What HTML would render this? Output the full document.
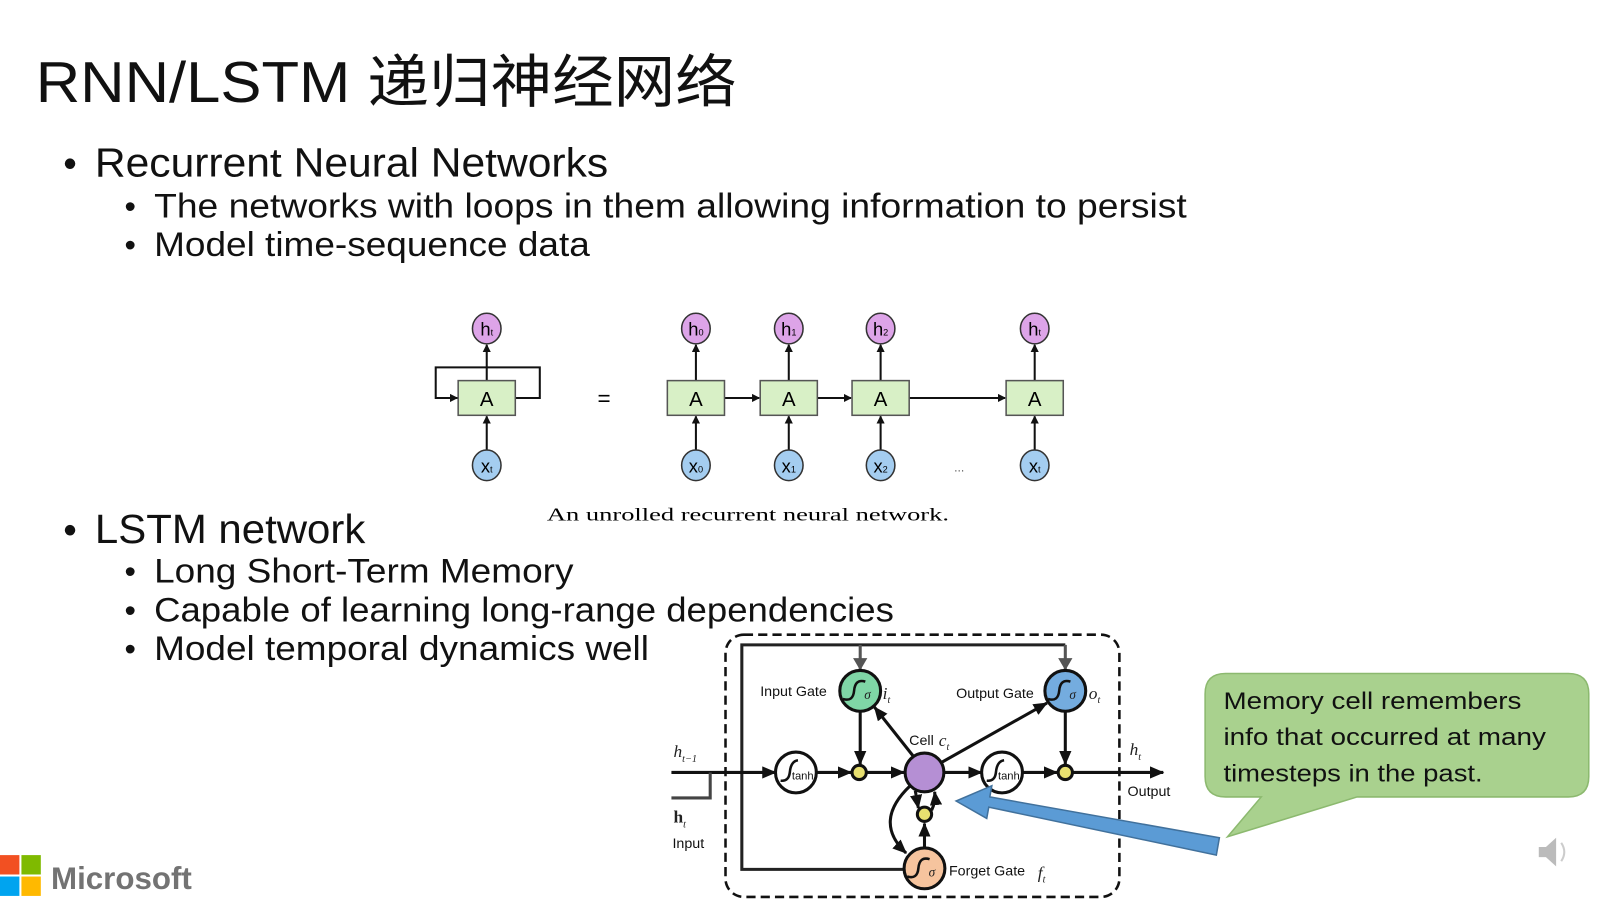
<!DOCTYPE html>
<html><head><meta charset="utf-8"><style>
html,body{margin:0;padding:0;background:#fff;width:1600px;height:900px;overflow:hidden}
svg{display:block}
.t{font-family:"Liberation Sans","Noto Sans CJK SC",sans-serif;fill:#111}
.s{font-family:"Liberation Sans",sans-serif;fill:#111}
.m{font-family:"Liberation Serif",serif;font-style:italic;fill:#222}
</style></head><body>
<svg width="1600" height="900" viewBox="0 0 1568 882" preserveAspectRatio="xMinYMin meet" xmlns="http://www.w3.org/2000/svg">
<defs>
<marker id="a" markerWidth="8" markerHeight="8" refX="7" refY="4" orient="auto" markerUnits="userSpaceOnUse"><path d="M0,0 L8,4 L0,8z" fill="#111"/></marker>
<marker id="b" markerWidth="14" markerHeight="12" refX="13" refY="6" orient="auto" markerUnits="userSpaceOnUse"><path d="M0,0 L14,6 L0,12z" fill="#111"/></marker>
<marker id="g" markerWidth="12" markerHeight="14" refX="11" refY="7" orient="auto" markerUnits="userSpaceOnUse"><path d="M0,0 L12,7 L0,14z" fill="#555"/></marker>
</defs>
<text class="t" x="35" y="100" font-size="56" textLength="687" lengthAdjust="spacingAndGlyphs">RNN/LSTM 递归神经网络</text>
<g class="s">
<text x="62" y="173" font-size="38">•</text>
<text x="93" y="173" font-size="40" textLength="503" lengthAdjust="spacingAndGlyphs">Recurrent Neural Networks</text>
<text x="122" y="213" font-size="32">•</text>
<text x="151" y="213" font-size="34" textLength="1012" lengthAdjust="spacingAndGlyphs">The networks with loops in them allowing information to persist</text>
<text x="122" y="251" font-size="32">•</text>
<text x="151" y="251" font-size="34" textLength="427" lengthAdjust="spacingAndGlyphs">Model time-sequence data</text>
<text x="62" y="532" font-size="38">•</text>
<text x="93" y="532" font-size="40" textLength="265" lengthAdjust="spacingAndGlyphs">LSTM network</text>
<text x="122" y="571" font-size="32">•</text>
<text x="151" y="571" font-size="34" textLength="411" lengthAdjust="spacingAndGlyphs">Long Short-Term Memory</text>
<text x="122" y="609" font-size="32">•</text>
<text x="151" y="609" font-size="34" textLength="725" lengthAdjust="spacingAndGlyphs">Capable of learning long-range dependencies</text>
<text x="122" y="647" font-size="32">•</text>
<text x="151" y="647" font-size="34" textLength="485" lengthAdjust="spacingAndGlyphs">Model temporal dynamics well</text>
</g>
<g stroke="#111" stroke-width="2" fill="none">
<path d="M449,390 H427 V360 H529 V390 H505" />
<line x1="427" y1="390" x2="448" y2="390" marker-end="url(#a)"/>
<line x1="477" y1="441" x2="477" y2="408" marker-end="url(#a)"/>
<line x1="477" y1="373" x2="477" y2="338" marker-end="url(#a)"/>
</g>
<g font-family="Liberation Sans,sans-serif" font-size="20" text-anchor="middle">
<rect x="449" y="373" width="56" height="34" fill="#d8f0c6" stroke="#555" stroke-width="1.5"/>
<text x="477" y="398">A</text>
<ellipse cx="477" cy="322" rx="14" ry="15" fill="#dda4e8" stroke="#333" stroke-width="1.5"/>
<text x="477" y="329" font-size="18">h<tspan font-size="9">t</tspan></text>
<ellipse cx="477" cy="456" rx="14" ry="15" fill="#a4cdf0" stroke="#333" stroke-width="1.5"/>
<text x="477" y="463" font-size="18">x<tspan font-size="9">t</tspan></text>
<text x="592" y="398" font-size="22">=</text>
</g>
<g stroke="#111" stroke-width="2" fill="none">
<line x1="710" y1="390" x2="744" y2="390" marker-end="url(#a)"/>
<line x1="801" y1="390" x2="834" y2="390" marker-end="url(#a)"/>
<line x1="891" y1="390" x2="985" y2="390" marker-end="url(#a)"/>
</g>
<g font-family="Liberation Sans,sans-serif" text-anchor="middle">
<line x1="682" y1="441" x2="682" y2="408" stroke="#111" stroke-width="2" marker-end="url(#a)"/>
<line x1="682" y1="373" x2="682" y2="338" stroke="#111" stroke-width="2" marker-end="url(#a)"/>
<line x1="773" y1="441" x2="773" y2="408" stroke="#111" stroke-width="2" marker-end="url(#a)"/>
<line x1="773" y1="373" x2="773" y2="338" stroke="#111" stroke-width="2" marker-end="url(#a)"/>
<line x1="863" y1="441" x2="863" y2="408" stroke="#111" stroke-width="2" marker-end="url(#a)"/>
<line x1="863" y1="373" x2="863" y2="338" stroke="#111" stroke-width="2" marker-end="url(#a)"/>
<line x1="1014" y1="441" x2="1014" y2="408" stroke="#111" stroke-width="2" marker-end="url(#a)"/>
<line x1="1014" y1="373" x2="1014" y2="338" stroke="#111" stroke-width="2" marker-end="url(#a)"/>
<rect x="654" y="373" width="56" height="34" fill="#d8f0c6" stroke="#555" stroke-width="1.5"/>
<rect x="745" y="373" width="56" height="34" fill="#d8f0c6" stroke="#555" stroke-width="1.5"/>
<rect x="835" y="373" width="56" height="34" fill="#d8f0c6" stroke="#555" stroke-width="1.5"/>
<rect x="986" y="373" width="56" height="34" fill="#d8f0c6" stroke="#555" stroke-width="1.5"/>
<text x="682" y="398" font-size="20">A</text><text x="773" y="398" font-size="20">A</text><text x="863" y="398" font-size="20">A</text><text x="1014" y="398" font-size="20">A</text>
<g fill="#dda4e8" stroke="#333" stroke-width="1.5">
<ellipse cx="682" cy="322" rx="14" ry="15"/><ellipse cx="773" cy="322" rx="14" ry="15"/><ellipse cx="863" cy="322" rx="14" ry="15"/><ellipse cx="1014" cy="322" rx="14" ry="15"/>
</g>
<g fill="#a4cdf0" stroke="#333" stroke-width="1.5">
<ellipse cx="682" cy="456" rx="14" ry="15"/><ellipse cx="773" cy="456" rx="14" ry="15"/><ellipse cx="863" cy="456" rx="14" ry="15"/><ellipse cx="1014" cy="456" rx="14" ry="15"/>
</g>
<g font-size="18">
<text x="682" y="329">h<tspan font-size="9">0</tspan></text><text x="773" y="329">h<tspan font-size="9">1</tspan></text><text x="863" y="329">h<tspan font-size="9">2</tspan></text><text x="1014" y="329">h<tspan font-size="9">t</tspan></text>
<text x="682" y="463">x<tspan font-size="9">0</tspan></text><text x="773" y="463">x<tspan font-size="9">1</tspan></text><text x="863" y="463">x<tspan font-size="9">2</tspan></text><text x="1014" y="463">x<tspan font-size="9">t</tspan></text>
</g>
<text x="940" y="462" font-size="12" fill="#555">...</text>
<text x="733" y="510" font-family="Liberation Serif,serif" font-size="18" textLength="394" lengthAdjust="spacingAndGlyphs">An unrolled recurrent neural network.</text>
</g>
<rect x="711" y="622" width="386" height="257" rx="18" fill="none" stroke="#111" stroke-width="2.5" stroke-dasharray="9,5"/>
<g stroke="#111" stroke-width="3" fill="none">
<path d="M890,852 H727 V632 H1044" stroke="#222"/>
<line x1="843" y1="632" x2="843" y2="656" stroke="#555" marker-end="url(#g)"/>
<line x1="1044" y1="632" x2="1044" y2="656" stroke="#555" marker-end="url(#g)"/>
<line x1="658" y1="757" x2="760" y2="757" marker-end="url(#b)"/>
<polyline points="658,782 696,782 696,757" stroke="#444"/>
<line x1="800" y1="757" x2="834" y2="757" marker-end="url(#b)"/>
<line x1="850" y1="757" x2="886" y2="757" marker-end="url(#b)"/>
<line x1="843" y1="697" x2="843" y2="749" marker-end="url(#b)"/>
<line x1="1044" y1="697" x2="1044" y2="749" marker-end="url(#b)"/>
<line x1="925" y1="757" x2="962" y2="757" marker-end="url(#b)"/>
<line x1="1002" y1="757" x2="1036" y2="757" marker-end="url(#b)"/>
<line x1="1052" y1="757" x2="1140" y2="757" marker-end="url(#b)"/>
<line x1="895" y1="741" x2="857" y2="693" marker-end="url(#b)"/>
<line x1="923" y1="747" x2="1026" y2="689" marker-end="url(#b)"/>
<line x1="906" y1="833" x2="906" y2="807" marker-end="url(#b)"/>
<line x1="897" y1="775" x2="900" y2="792" marker-end="url(#b)"/>
<path d="M913,794 Q917,786 916,776" marker-end="url(#b)"/>
<path d="M892,770 Q855,805 888,836" marker-end="url(#b)"/>
</g>
<g stroke="#111" stroke-width="3">
<circle cx="843" cy="677" r="20" fill="#7fd6a6"/>
<circle cx="1044" cy="677" r="20" fill="#74acdf"/>
<circle cx="906" cy="757" r="19" fill="#b58fd4"/>
<circle cx="780" cy="757" r="20" fill="#fff"/>
<circle cx="982" cy="757" r="20" fill="#fff"/>
<circle cx="906" cy="851" r="20" fill="#f6c49e"/>
<circle cx="842" cy="757" r="7" fill="#e8e070"/>
<circle cx="1044" cy="757" r="7" fill="#e8e070"/>
<circle cx="906" cy="798" r="7" fill="#e8e070"/>
</g>
<g stroke="#111" stroke-width="2.5" fill="none">
<path d="M826,685 Q836,688 837,677 Q838,665 848,668"/>
<path d="M1027,685 Q1037,688 1038,677 Q1039,665 1049,668"/>
<path d="M889,859 Q899,862 900,851 Q901,839 911,842"/>
<path d="M765,765 Q773,766 774,757 Q775,746 782,745"/>
<path d="M967,765 Q975,766 976,757 Q977,746 984,745"/>
</g>
<g font-family="Liberation Sans,sans-serif" font-size="14" fill="#111">
<text x="745" y="682">Input Gate</text>
<text x="937" y="684">Output Gate</text>
<text x="891" y="730">Cell</text>
<text x="930" y="858">Forget Gate</text>
<text x="659" y="831">Input</text>
<text x="1105" y="780">Output</text>
<text x="776" y="764" font-size="11">tanh</text>
<text x="978" y="764" font-size="11">tanh</text>
<text x="847" y="685" font-size="13" class="m">σ</text>
<text x="1048" y="685" font-size="13" class="m">σ</text>
<text x="910" y="859" font-size="13" class="m">σ</text>
</g>
<g class="m" font-size="17">
<text x="865" y="685">i<tspan font-size="10" dy="4">t</tspan></text>
<text x="1067" y="685">o<tspan font-size="10" dy="4">t</tspan></text>
<text x="920" y="731">c<tspan font-size="10" dy="4">t</tspan></text>
<text x="1017" y="861">f<tspan font-size="10" dy="4">t</tspan></text>
<text x="660" y="742">h<tspan font-size="10" dy="5">t−1</tspan></text>
<text x="1107" y="740">h<tspan font-size="10" dy="5">t</tspan></text>
<text x="660" y="806" font-style="normal" font-weight="bold">h<tspan font-size="10" dy="5" font-weight="normal" font-style="italic">t</tspan></text>
</g>
<polygon points="1195,821 970,781 972,770 937,785 967,802 969,791 1192,838" fill="#5b9bd5" stroke="#41719c" stroke-width="1.5"/>
<path d="M1201,660 H1537 Q1557,660 1557,680 V761 Q1557,781 1537,781 H1330 L1203,820 L1236,781 H1201 Q1181,781 1181,761 V680 Q1181,660 1201,660z" fill="#a9d18e" stroke="#8cb96f" stroke-width="1.5"/>
<g class="s" font-size="24">
<text x="1199" y="695" textLength="292" lengthAdjust="spacingAndGlyphs">Memory cell remembers</text>
<text x="1199" y="730" textLength="316" lengthAdjust="spacingAndGlyphs">info that occurred at many</text>
<text x="1199" y="766" textLength="254" lengthAdjust="spacingAndGlyphs">timesteps in the past.</text>
</g>
<rect x="0" y="838" width="19" height="19" fill="#f25022"/>
<rect x="21" y="838" width="19" height="19" fill="#7fba00"/>
<rect x="0" y="859" width="19" height="19" fill="#00a4ef"/>
<rect x="21" y="859" width="19" height="19" fill="#ffb900"/>
<text x="50" y="871" font-family="Liberation Sans,sans-serif" font-size="31" font-weight="bold" fill="#737373" textLength="138" lengthAdjust="spacingAndGlyphs">Microsoft</text>
<path d="M1508,830 H1515 L1525,821 V849 L1515,840 H1508z" fill="#bbb"/>
<path d="M1530,826 Q1536,835 1530,844" stroke="#ccc" stroke-width="2" fill="none"/>
</svg>
</body></html>
